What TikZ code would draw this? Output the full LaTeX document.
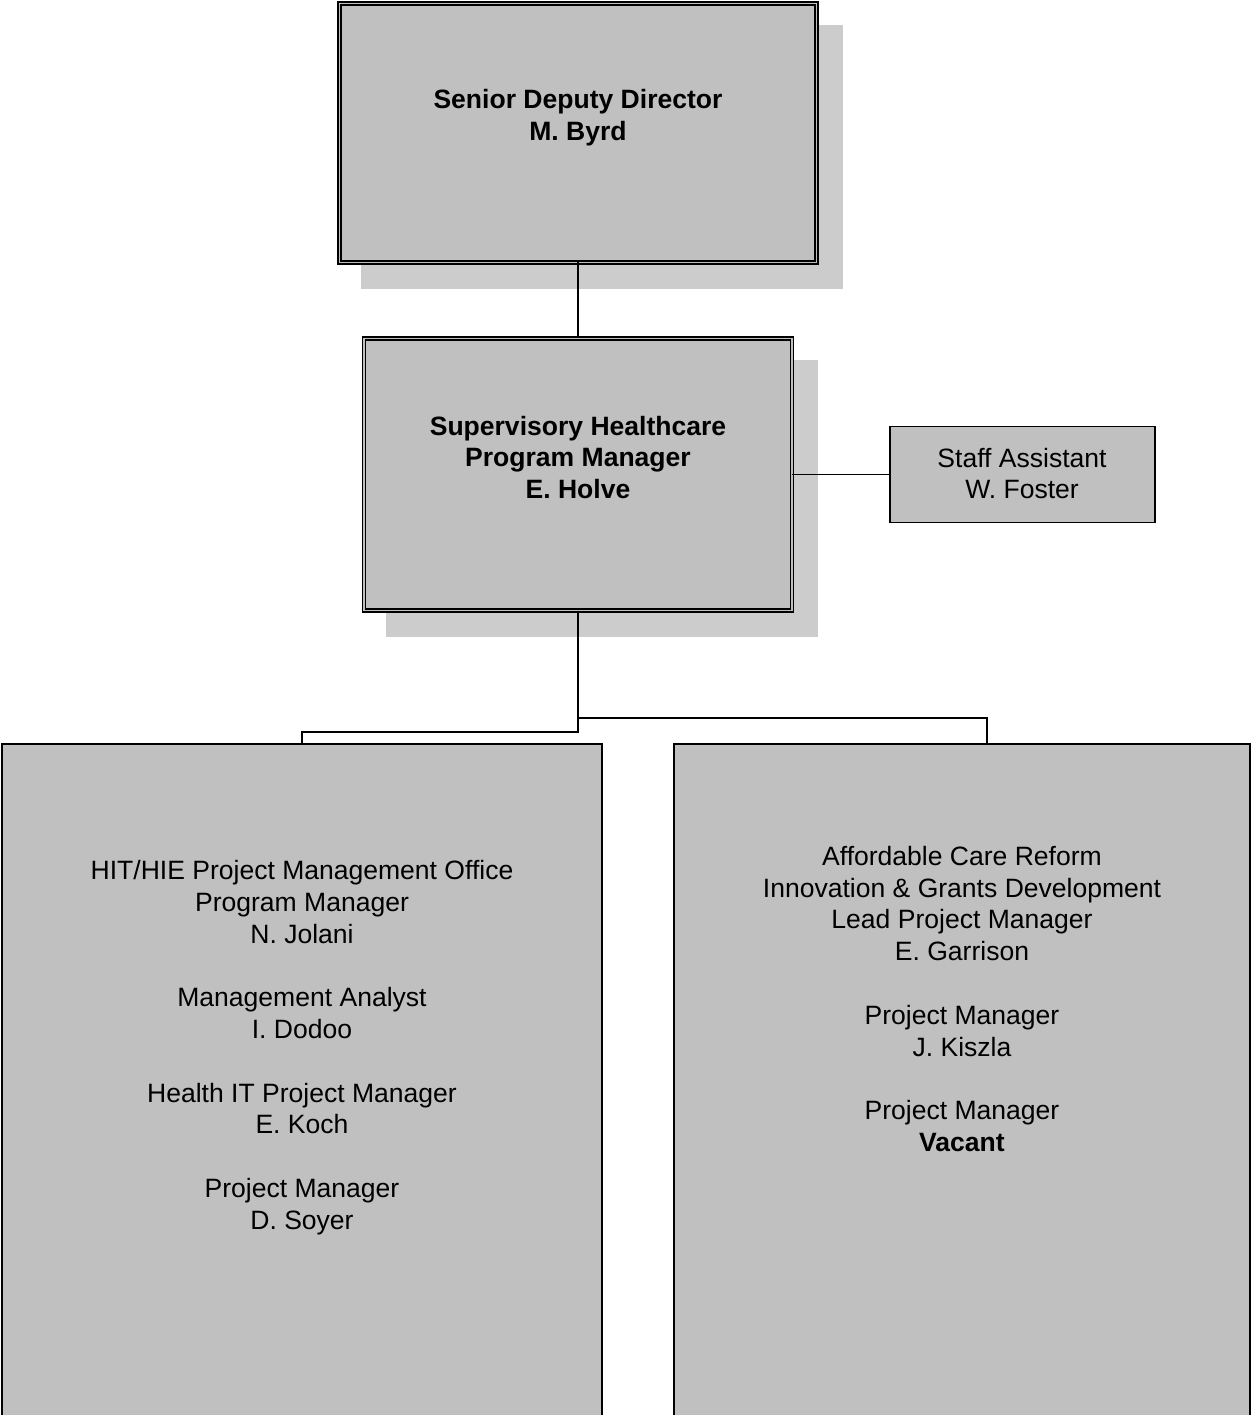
\documentclass[tikz,border=0pt]{standalone}
\usepackage{fontspec}
\setmainfont{Liberation Sans}
\usetikzlibrary{backgrounds}
\definecolor{boxgray}{RGB}{192,192,192}
\definecolor{shadowgray}{RGB}{204,204,204}
\begin{document}
\begin{tikzpicture}[x=0.02cm,y=-0.02cm,
  dblbox/.style={draw=black, fill=boxgray, double=boxgray, line width=0.8pt, double distance=1.1pt, inner sep=0pt, outer sep=0pt},
  plainbox/.style={draw=black, fill=boxgray, line width=0.8pt, inner sep=0pt, outer sep=0pt},
  txt/.style={align=center, inner sep=0pt, font=\fontsize{15.1}{18.1}\selectfont},
  conn/.style={draw=black, line width=0.7pt},
  shadowfill/.style={fill=shadowgray}]
\useasboundingbox (0,0) rectangle (1251,1415);
\clip (0,0) rectangle (1251,1415);

% boxes
\node[dblbox, minimum width={477*0.02cm}, minimum height={259*0.02cm}] (top) at (578,133) {};
\node[dblbox, minimum width={428*0.02cm}, minimum height={272*0.02cm}] (mid) at (578,474.5) {};
\node[plainbox, minimum width={265*0.02cm}, minimum height={96*0.02cm}] (staff) at (1022.5,474.5) {};
\node[plainbox, minimum width={600*0.02cm}, minimum height={700*0.02cm}] (left) at (302,1094) {};
\node[plainbox, minimum width={576*0.02cm}, minimum height={700*0.02cm}] (right) at (962,1094) {};

% shadows
\begin{scope}[on background layer]
  \fill[shadowfill] ([shift={(21.6,26.4)}]top.south west) rectangle ([shift={(26.4,21.6)}]top.north east);
  \fill[shadowfill] ([shift={(21.6,26.4)}]mid.south west) rectangle ([shift={(26.4,21.6)}]mid.north east);
\end{scope}

% texts
\node[txt] (toptext) at (578,118) {\textbf{Senior Deputy Director}\\\textbf{M. Byrd}};
\node[txt] (midtext) at (578,457.5) {\textbf{Supervisory Healthcare}\\\textbf{Program Manager}\\\textbf{E. Holve}};
\node[txt] (stafftext) at (1022,473.5) {Staff Assistant\\W. Foster};
\node[txt] (lefttext) at (302,1047.5) {HIT/HIE Project Management Office\\Program Manager\\N. Jolani\\[18.1pt]
Management Analyst\\I. Dodoo\\[18.1pt]
Health IT Project Manager\\E. Koch\\[18.1pt]
Project Manager\\D. Soyer};
\node[txt] (righttext) at (962,999) {Affordable Care Reform\\Innovation \& Grants Development\\Lead Project Manager\\E. Garrison\\[18.1pt]
Project Manager\\J. Kiszla\\[18.1pt]
Project Manager\\\textbf{Vacant}};

% connectors
\coordinate (jL) at (302,732);
\coordinate (jR) at (987,718);
\draw[conn] (top.south) -- (mid.north);
\draw[conn] (mid.east) -- (staff.west);
\draw[conn] (mid.south) |- (jL) -- (left.north);
\draw[conn] (mid.south) |- (jR) -- (jR |- right.north);
\end{tikzpicture}
\end{document}
